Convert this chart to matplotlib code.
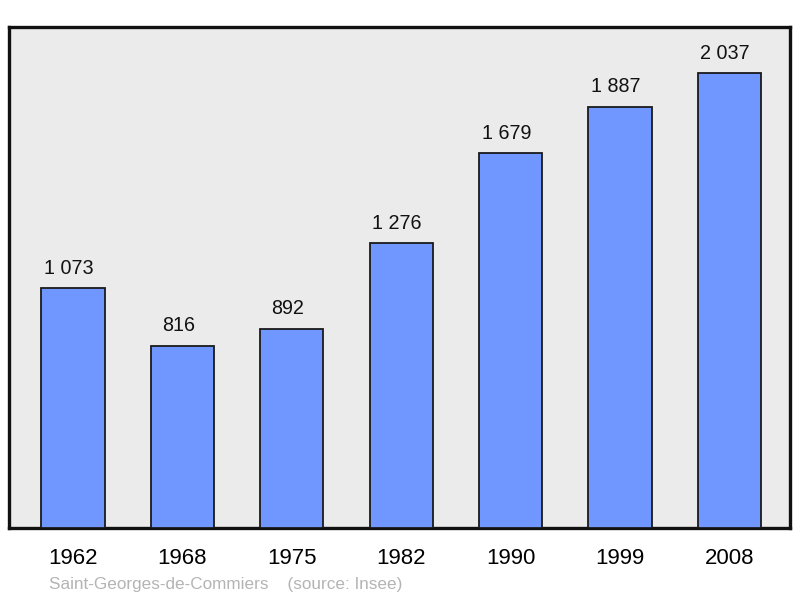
import matplotlib.pyplot as plt

years = ["1962", "1968", "1975", "1982", "1990", "1999", "2008"]
population = [1073, 816, 892, 1276, 1679, 1887, 2037]
value_labels = ["1 073", "816", "892", "1 276", "1 679", "1 887", "2 037"]

plt.rcParams["font.family"] = ["Liberation Sans", "DejaVu Sans"]

fig = plt.figure(figsize=(8, 5.98), dpi=100)
W, H = 800, 598
ax = fig.add_axes([9 / W, 1 - 528 / H, (790 - 9) / W, (528 - 27) / H])
ax.set_facecolor("#ebebeb")

x = range(len(years))
ax.bar(x, population, width=0.576, color="#7096ff", edgecolor="#1a1a1a",
       linewidth=1.3, zorder=3)

# value labels sit a little left of the bar centre, as in the original
for xi, v, lab in zip(x, population, value_labels):
    ax.annotate(lab, (xi, v), xytext=(-3, 7.5), textcoords="offset points",
                ha="center", va="bottom", fontsize=14.2, color="#111111")

ax.set_xlim(-0.585, 6.554)
ax.set_ylim(0, 2243)
ax.set_xticks(list(x))
ax.set_xticklabels(years, fontsize=16)
ax.set_yticks([])
ax.tick_params(axis="x", length=0, pad=14.5)
for s in ax.spines.values():
    s.set_linewidth(2.4)
    s.set_color("#111111")

fig.text(49 / W, 1 - 584.5 / H, "Saint-Georges-de-Commiers    (source: Insee)",
         fontsize=12.3, color="#b4b4b4", va="center", ha="left")

fig.savefig("out.png", dpi=100)
